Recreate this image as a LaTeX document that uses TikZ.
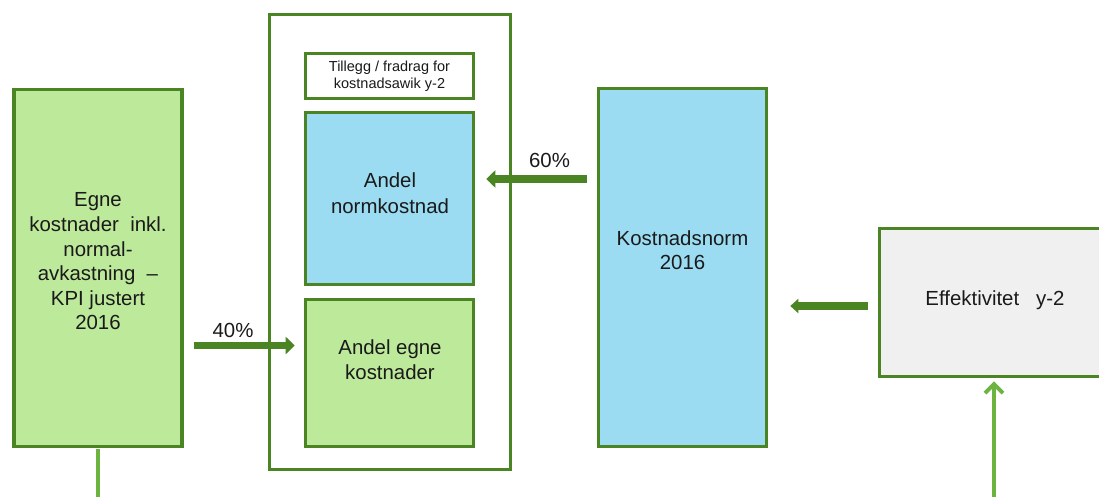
\documentclass[tikz,border=0pt]{standalone}
\usepackage{fontspec}
\setmainfont{Liberation Sans}
\usetikzlibrary{arrows.meta}
\definecolor{dgreen}{HTML}{4B8422}
\definecolor{lgreen}{HTML}{6DB33F}
\definecolor{gfill}{HTML}{BDE99B}
\definecolor{bfill}{HTML}{9BDCF2}
\definecolor{grfill}{HTML}{F0F0F0}
\definecolor{txt}{HTML}{1A1A1A}
\begin{document}
\begin{tikzpicture}[x=1pt,y=-1pt,
  box/.style={draw=dgreen,line width=3.6pt,inner sep=0pt},
  lbl/.style={text=txt,align=center,inner sep=0pt,font=\fontsize{20.4}{25}\selectfont},
  small/.style={text=txt,align=center,inner sep=0pt,font=\fontsize{14.5}{17}\selectfont},
  flow/.style={draw=dgreen,line width=7pt,-{Triangle[length=9pt,width=17pt]}},
  flowb/.style={draw=dgreen,line width=7.5pt,-{Triangle[length=8pt,width=14pt]}},
  thin/.style={draw=lgreen,line width=4pt}]
\useasboundingbox (0,0) rectangle (1099,497);
\coordinate (bl) at (98,497);
\coordinate (br) at (994,497);
% boxes
\node[box,fill=gfill,minimum width=168,minimum height=357] (egne) at (98,268) {};
\node[box,fill=white,line width=3.3pt,minimum width=241,minimum height=455] (outer) at (390,242) {};
\node[box,fill=white,minimum width=168,minimum height=45] (till) at (389.5,76) {};
\node[box,fill=bfill,minimum width=168,minimum height=172] (anorm) at (389.5,198.5) {};
\node[box,fill=gfill,minimum width=168,minimum height=147] (egnek) at (389.5,373) {};
\node[box,fill=bfill,minimum width=168,minimum height=358] (knorm) at (682.5,267.5) {};
\node[box,fill=grfill,minimum width=229,minimum height=148] (eff) at (994,302.5) {};
% texts
\node[lbl,font=\fontsize{20.4}{24.6}\selectfont] (egnet) at (98,261.5) {Egne\\kostnader\ \ inkl.\\normal-\\avkastning\ \ --\\KPI justert\\2016};
\node[small] (tillt) at (389.5,76) {Tillegg / fradrag for\\kostnadsawik y-2};
\node[lbl,font=\fontsize{20.4}{26}\selectfont] (anormt) at (390,193) {Andel\\normkostnad};
\node[lbl] (egnekt) at (390,359.5) {Andel egne\\kostnader};
\node[lbl,font=\fontsize{20.4}{24}\selectfont] (knormt) at (682.5,250) {Kostnadsnorm\\2016};
\node[lbl] (efft) at (995,300) {Effektivitet\ \ \ y-2};
\node[lbl] (p40) at (233,330) {40\%};
\node[lbl] (p60) at (549.5,160) {60\%};
% connectors
\draw[thin,shorten <=0.6pt] (egne.south) -- (egne.south |- bl);
\draw[flow,shorten <=10pt,shorten >=9pt] (egne.east |- 0,345.5) -- (egnek.west |- 0,345.5);
\draw[flow,shorten <=10pt,shorten >=11pt] (knorm.west |- 0,179) -- (anorm.east |- 0,179);
\draw[flowb,shorten <=10pt,shorten >=22pt] (eff.west |- 0,306) -- (knorm.east |- 0,306);
\draw[thin,-{Straight Barb[length=9pt,width=18pt]},shorten >=3pt] (br) -- (eff.south -| br);
\end{tikzpicture}
\end{document}
